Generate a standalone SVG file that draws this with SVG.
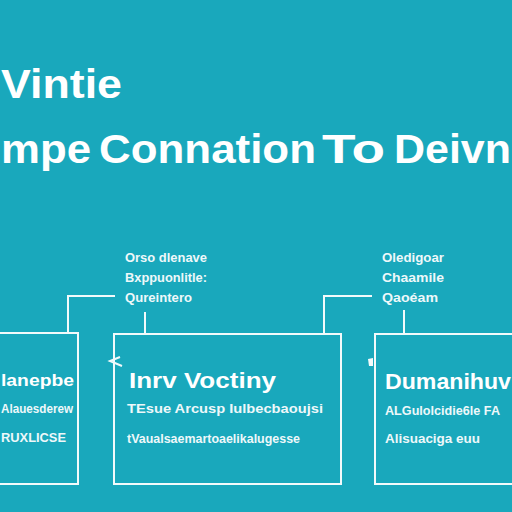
<svg xmlns="http://www.w3.org/2000/svg" width="512" height="512" viewBox="0 0 512 512">
<style>
.t{font-family:"Liberation Sans","DejaVu Sans",sans-serif;fill:#ffffff;font-weight:bold}
.s{font-family:"Liberation Sans Narrow","Liberation Sans",sans-serif;fill:#eef8fa;font-weight:bold;font-size:12px}
.box{fill:none;stroke:#f2fafb;stroke-width:2}
.ln{fill:none;stroke:#f2fafb;stroke-width:2}
</style>
<rect width="512" height="512" fill="#19a8bc"/>
<g id="title">
<text class="t" x="1" y="98" font-size="40" textLength="121" lengthAdjust="spacingAndGlyphs">Vintie</text>
<text class="t" x="1" y="163" font-size="41" textLength="90" lengthAdjust="spacingAndGlyphs">mpe</text>
<text class="t" x="99" y="163" font-size="41" textLength="217" lengthAdjust="spacingAndGlyphs">Connation</text>
<text class="t" x="322" y="163" font-size="41" textLength="63" lengthAdjust="spacingAndGlyphs">To</text>
<text class="t" x="394" y="163" font-size="41" textLength="117" lengthAdjust="spacingAndGlyphs">Deivn</text>
</g>
<g id="connectors">
<polyline class="ln" points="115,296 68,296 68,333"/>
<line class="ln" x1="145" y1="312" x2="145" y2="334"/>
<polyline class="ln" points="372,296 324,296 324,334"/>
<line class="ln" x1="404" y1="310" x2="404" y2="334"/>
<path class="ln" d="M120,357 L110,361 L122,366" stroke-width="2.5"/>
<path d="M368,359 L373,358 L373,366 L369,366 Z" fill="#f2fafb"/>
</g>
<g id="label-middle">
<text class="s" x="125" y="262" textLength="82" lengthAdjust="spacingAndGlyphs">Orso dlenave</text>
<text class="s" x="125" y="282" textLength="82" lengthAdjust="spacingAndGlyphs">Bxppuonlitle:</text>
<text class="s" x="125" y="302" textLength="67" lengthAdjust="spacingAndGlyphs">Qureintero</text>
</g>
<g id="label-right">
<text class="s" x="382" y="262" textLength="62" lengthAdjust="spacingAndGlyphs">Oledigoar</text>
<text class="s" x="382" y="282" textLength="62" lengthAdjust="spacingAndGlyphs">Chaamile</text>
<text class="s" x="382" y="302" textLength="56" lengthAdjust="spacingAndGlyphs">Qaoéam</text>
</g>
<g id="node-left">
<rect class="box" x="-5" y="333" width="83" height="151"/>
<text class="t" x="1" y="386" font-size="17" textLength="73" lengthAdjust="spacingAndGlyphs">lanepbe</text>
<text class="s" x="1" y="413" textLength="72" lengthAdjust="spacingAndGlyphs">Alauesderew</text>
<text class="s" x="1" y="442" textLength="65" lengthAdjust="spacingAndGlyphs">RUXLICSE</text>
</g>
<g id="node-middle">
<rect class="box" x="114" y="334" width="227" height="150"/>
<text class="t" x="129" y="388" font-size="22" textLength="147" lengthAdjust="spacingAndGlyphs">Inrv Voctiny</text>
<text class="s" x="127" y="413" textLength="196" lengthAdjust="spacingAndGlyphs">TEsue Arcusp Iulbecbaoujsi</text>
<text class="s" x="127" y="443" textLength="173" lengthAdjust="spacingAndGlyphs">tVaualsaemartoaelikalugesse</text>
</g>
<g id="node-right">
<rect class="box" x="375" y="334" width="145" height="150"/>
<text class="t" x="385" y="389" font-size="22" textLength="126" lengthAdjust="spacingAndGlyphs">Dumanihuv</text>
<text class="s" x="385" y="415" textLength="115" lengthAdjust="spacingAndGlyphs">ALGulolcidie6le FA</text>
<text class="s" x="385" y="443" textLength="95" lengthAdjust="spacingAndGlyphs">Alisuaciga euu</text>
</g>
</svg>
